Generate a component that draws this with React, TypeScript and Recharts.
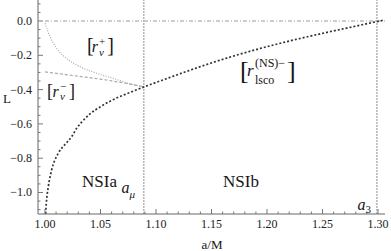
import React from "react";
import { ComposedChart, Line, XAxis, YAxis, ReferenceLine } from "recharts";

// thick dotted curve [r_lsco^(NS)-]
const lscoA = [1.0006, 1.0012, 1.003, 1.006, 1.012, 1.018, 1.024, 1.0285, 1.033, 1.04, 1.05, 1.06, 1.0766, 1.089, 1.11, 1.14, 1.17, 1.194, 1.22, 1.25, 1.28, 1.3, 1.306];
const lscoL = [-1.125, -1.063, -0.966, -0.869, -0.771, -0.72, -0.675, -0.626, -0.59, -0.545, -0.5, -0.463, -0.417, -0.385, -0.335, -0.266, -0.204, -0.16, -0.117, -0.072, -0.03, -0.002, 0.006];

// grey dotted curve [r_v^+]
const vPlusA = [1.0, 1.0045, 1.0105, 1.0195, 1.0315, 1.0466, 1.0613, 1.0748, 1.089];
const vPlusL = [-0.013, -0.09, -0.159, -0.218, -0.266, -0.305, -0.334, -0.363, -0.385];

// grey dashed curve [r_v^-]
const vMinusA = [1.0, 1.03, 1.06, 1.089];
const vMinusL = [-0.297, -0.322, -0.349, -0.383];

const aMu = 1.089;
const a3 = 1.299;

const xMajor = [1.0, 1.05, 1.1, 1.15, 1.2, 1.25, 1.3];
const yMajor = [0, -0.2, -0.4, -0.6, -0.8, -1.0];
const xTicks = Array.from({ length: 31 }, (_, i) => +(1.0 + i * 0.01).toFixed(2));
const yTicks = Array.from({ length: 25 }, (_, i) => +(-1.1 + i * 0.05).toFixed(2));

const pts = (a: number[], L: number[]) => a.map((x, i) => ({ a: x, L: L[i] }));

const FONT = '"Liberation Serif", "DejaVu Serif", serif';
const TICK = "#777";
const FRAME = "#666";
const isMajor = (v: number, m: number[]) => m.some((t) => Math.abs(t - v) < 1e-6);
const yFmt = (v: number) => (Math.abs(v) < 1e-9 ? "0.0" : "\u2212" + Math.abs(v).toFixed(1));

function BottomTick({ x, y, payload }: any) {
  const major = isMajor(payload.value, xMajor);
  return (
    <g>
      <line x1={x} x2={x} y1={y} y2={y - (major ? 5 : 2.5)} stroke={TICK} />
      {major && (
        <text x={x} y={y + 14} textAnchor="middle" fontSize={12} fontFamily={FONT} fill="#222">
          {payload.value.toFixed(2)}
        </text>
      )}
    </g>
  );
}

function TopTick({ x, y, payload }: any) {
  const major = isMajor(payload.value, xMajor);
  return <line x1={x} x2={x} y1={y} y2={y + (major ? 5 : 2.5)} stroke={TICK} />;
}

function LeftTick({ x, y, payload }: any) {
  const major = isMajor(payload.value, yMajor);
  return (
    <g>
      <line x1={x} x2={x + (major ? 5 : 2.5)} y1={y} y2={y} stroke={TICK} />
      {major && (
        <text x={x - 6} y={y + 4} textAnchor="end" fontSize={12} fontFamily={FONT} fill="#222">
          {yFmt(payload.value)}
        </text>
      )}
    </g>
  );
}

function RightTick({ x, y, payload }: any) {
  const major = isMajor(payload.value, yMajor);
  return <line x1={x} x2={x - (major ? 5 : 2.5)} y1={y} y2={y} stroke={TICK} />;
}

function Labels() {
  const t = { fontFamily: FONT, fill: "#151515" } as const;
  return (
    <svg width={391} height={251} style={{ position: "absolute", left: 0, top: 0, pointerEvents: "none" }}>
      {/* [r_v^+] */}
      <text x={87} y={52} {...t}>
        <tspan fontSize={20}>[</tspan>
        <tspan dx={-2} fontSize={16} fontStyle="italic">r</tspan>
        <tspan dx={1} dy={-7} fontSize={11}>+</tspan>
        <tspan dx={-6.2} dy={11} fontSize={11} fontStyle="italic">v</tspan>
        <tspan dx={3.5} dy={-4} fontSize={20}>]</tspan>
      </text>
      {/* [r_v^-] */}
      <text x={47} y={97} {...t}>
        <tspan fontSize={18}>[</tspan>
        <tspan dx={-0.5} fontSize={16} fontStyle="italic">r</tspan>
        <tspan dx={1.3} dy={-7} fontSize={11}>{"\u2212"}</tspan>
        <tspan dx={-6.2} dy={10} fontSize={11} fontStyle="italic">v</tspan>
        <tspan dx={4} dy={-3} fontSize={18}>]</tspan>
      </text>
      {/* [r_lsco^(NS)-] */}
      <text x={240} y={79} {...t}>
        <tspan fontSize={26}>[</tspan>
        <tspan dx={-1.7} dy={-3} fontSize={17} fontStyle="italic">r</tspan>
        <tspan dx={1.4} dy={-9} fontSize={12}>(NS){"\u2212"}</tspan>
        <tspan dx={-30.1} dy={17} fontSize={12}>lsco</tspan>
        <tspan dx={12.7} dy={-5} fontSize={26}>]</tspan>
      </text>
      {/* regions */}
      <text x={82} y={187} fontSize={17} {...t}>NSIa</text>
      <text x={121.5} y={193} {...t}>
        <tspan fontSize={16} fontStyle="italic">a</tspan>
        <tspan dy={5} fontSize={11} fontStyle="italic">{"\u03bc"}</tspan>
      </text>
      <text x={223} y={187} fontSize={17} {...t}>NSIb</text>
      <text x={357.5} y={210} {...t}>
        <tspan fontSize={16} fontStyle="italic">a</tspan>
        <tspan dy={3} fontSize={11}>3</tspan>
      </text>
      {/* axis titles */}
      <text x={3} y={103} fontSize={13} {...t}>L</text>
      <text x={212} y={249} fontSize={13} textAnchor="middle" {...t}>a/M</text>
    </svg>
  );
}

export default function App() {
  return (
    <div style={{ position: "absolute", left: 0, top: 0, width: 391, height: 251, background: "#fff" }}>
      <ComposedChart width={391} height={251} margin={{ top: 0, right: 6, bottom: 0, left: 0 }}>
        <XAxis
          dataKey="a"
          type="number"
          domain={[0.9937, 1.3063]}
          allowDataOverflow
          ticks={xTicks}
          interval={0}
          height={37}
          tickSize={0}
          tickMargin={0}
          tickLine={false}
          tick={<BottomTick />}
          axisLine={{ stroke: FRAME }}
        />
        <XAxis
          xAxisId="top"
          orientation="top"
          dataKey="a"
          type="number"
          domain={[0.9937, 1.3063]}
          allowDataOverflow
          ticks={xTicks}
          interval={0}
          height={0}
          tickSize={0}
          tickMargin={0}
          tickLine={false}
          tick={<TopTick />}
          axisLine={{ stroke: FRAME }}
        />
        <YAxis
          type="number"
          domain={[-1.1254, 0.1224]}
          allowDataOverflow
          ticks={yTicks}
          interval={0}
          width={38}
          tickSize={0}
          tickMargin={0}
          tickLine={false}
          tick={<LeftTick />}
          axisLine={{ stroke: FRAME }}
        />
        <YAxis
          yAxisId="right"
          orientation="right"
          type="number"
          domain={[-1.1254, 0.1224]}
          allowDataOverflow
          ticks={yTicks}
          interval={0}
          width={0}
          tickSize={0}
          tickMargin={0}
          tickLine={false}
          tick={<RightTick />}
          axisLine={{ stroke: FRAME }}
        />
        <ReferenceLine
          segment={[{ x: 1.0, y: 0 }, { x: 1.3063, y: 0 }]}
          stroke="#999"
          strokeDasharray="4 2 1 2"
        />
        <ReferenceLine x={aMu} stroke="#b5b5b5" strokeWidth={1.5} strokeDasharray="2 1" />
        <ReferenceLine x={a3} stroke="#b5b5b5" strokeWidth={1.5} strokeDasharray="2 1" />
        <Line data={pts(vPlusA, vPlusL)} dataKey="L" type="monotone" stroke="#aaa" strokeWidth={1.2} strokeDasharray="1 1.5" dot={false} isAnimationActive={false} />
        <Line data={pts(vMinusA, vMinusL)} dataKey="L" type="monotone" stroke="#aaa" strokeWidth={1.2} strokeDasharray="3 2" dot={false} isAnimationActive={false} />
        <Line data={pts(lscoA, lscoL)} dataKey="L" type="monotone" stroke="#333" strokeWidth={1.7} strokeDasharray="2 2" dot={false} isAnimationActive={false} />
      </ComposedChart>
      <Labels />
    </div>
  );
}
